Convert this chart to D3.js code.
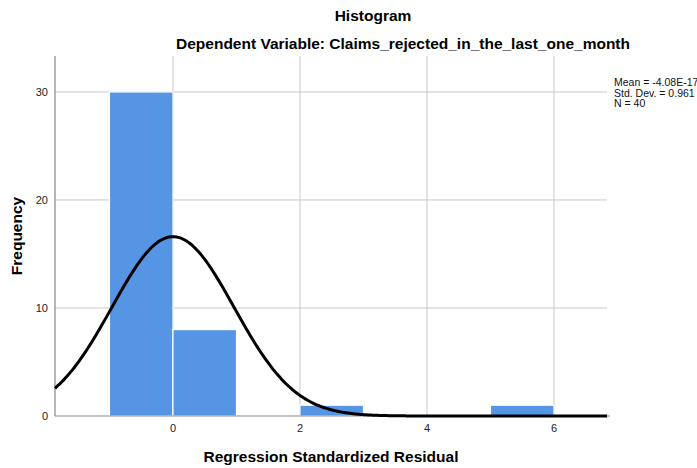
<!DOCTYPE html>
<html>
<head>
<meta charset="utf-8">
<script src="https://cdn.jsdelivr.net/npm/d3@7"></script>
<style>
  body { margin: 0; background: #fff; }
  text { font-family: "Liberation Sans", Arial, sans-serif; }
</style>
</head>
<body>
<div id="chart"></div>
<script>
// histogram bins (lower edge, upper edge, frequency)
const binStarts = [-1, 0, 2, 5];
const binEnds = [0, 1, 3, 6];
const counts = [30, 8, 1, 1];
const xTicks = [0, 2, 4, 6];
const yTicks = [0, 10, 20, 30];
const statLines = ['Mean = -4.08E-17', 'Std. Dev. = 0.961', 'N = 40'];
const mean = -4.08e-17, sd = 0.961, n = 40, binWidth = 1;

const width = 697, height = 468;
const plot = { left: 55, right: 607, top: 56, bottom: 416 };

const svg = d3.select('#chart').append('svg')
  .attr('width', width)
  .attr('height', height);

const x = d3.scaleLinear().domain([-1.858, 6.835]).range([plot.left, plot.right]);
const y = d3.scaleLinear().domain([0, 33.33]).range([plot.bottom, plot.top]);

// gridlines
svg.append('g').selectAll('line.hg')
  .data(yTicks.filter(d => d > 0))
  .enter().append('line')
  .attr('x1', plot.left).attr('x2', plot.right)
  .attr('y1', d => y(d)).attr('y2', d => y(d))
  .attr('stroke', '#c8c8c8').attr('stroke-width', 1);

svg.append('g').selectAll('line.vg')
  .data(xTicks)
  .enter().append('line')
  .attr('x1', d => x(d)).attr('x2', d => x(d))
  .attr('y1', plot.top).attr('y2', plot.bottom)
  .attr('stroke', '#c8c8c8').attr('stroke-width', 1);

// bars
svg.append('g').selectAll('rect')
  .data(counts)
  .enter().append('rect')
  .attr('x', (d, i) => x(binStarts[i]))
  .attr('width', (d, i) => x(binEnds[i]) - x(binStarts[i]))
  .attr('y', d => y(d))
  .attr('height', d => y(0) - y(d))
  .attr('fill', '#5694e4')
  .attr('stroke', '#fff')
  .attr('stroke-width', 1.2);

// axes lines
svg.append('line')
  .attr('x1', plot.left).attr('x2', plot.left)
  .attr('y1', plot.top).attr('y2', plot.bottom)
  .attr('stroke', '#888').attr('stroke-width', 1.2);
svg.append('line')
  .attr('x1', plot.left).attr('x2', plot.right + 3)
  .attr('y1', plot.bottom).attr('y2', plot.bottom)
  .attr('stroke', '#888').attr('stroke-width', 1.2);

// normal curve
const peak = n * binWidth / (sd * Math.sqrt(2 * Math.PI));
const curvePts = d3.range(0, 301).map(i => {
  const xv = x.domain()[0] + (x.domain()[1] - x.domain()[0]) * i / 300;
  return [xv, peak * Math.exp(-0.5 * Math.pow((xv - mean) / sd, 2))];
});
svg.append('path')
  .datum(curvePts)
  .attr('fill', 'none')
  .attr('stroke', '#000')
  .attr('stroke-width', 3)
  .attr('d', d3.line().x(d => x(d[0])).y(d => y(d[1])).curve(d3.curveBasis));

// tick labels
svg.append('g').selectAll('text')
  .data(xTicks)
  .enter().append('text')
  .attr('x', d => x(d))
  .attr('y', 432)
  .attr('text-anchor', 'middle')
  .attr('font-size', 11)
  .attr('fill', '#222')
  .text(d => d);

svg.append('g').selectAll('text')
  .data(yTicks)
  .enter().append('text')
  .attr('x', 48)
  .attr('y', d => y(d) + 4)
  .attr('text-anchor', 'end')
  .attr('font-size', 11)
  .attr('fill', '#222')
  .text(d => d);

// titles
svg.append('text')
  .attr('x', 373).attr('y', 21)
  .attr('text-anchor', 'middle')
  .attr('font-size', 15.5).attr('font-weight', 'bold')
  .text('Histogram');
svg.append('text')
  .attr('x', 403).attr('y', 49)
  .attr('text-anchor', 'middle')
  .attr('font-size', 15.5).attr('font-weight', 'bold')
  .text('Dependent Variable: Claims_rejected_in_the_last_one_month');
svg.append('text')
  .attr('x', 331).attr('y', 462)
  .attr('text-anchor', 'middle')
  .attr('font-size', 15.5).attr('font-weight', 'bold')
  .text('Regression Standardized Residual');
svg.append('text')
  .attr('transform', 'translate(22,236) rotate(-90)')
  .attr('text-anchor', 'middle')
  .attr('font-size', 15.5).attr('font-weight', 'bold')
  .text('Frequency');

// stats legend
svg.append('g').selectAll('text')
  .data(statLines)
  .enter().append('text')
  .attr('x', 614)
  .attr('y', (d, i) => 86 + i * 10.5)
  .attr('font-size', 10.5)
  .attr('fill', '#111')
  .text(d => d);
</script>
</body>
</html>
